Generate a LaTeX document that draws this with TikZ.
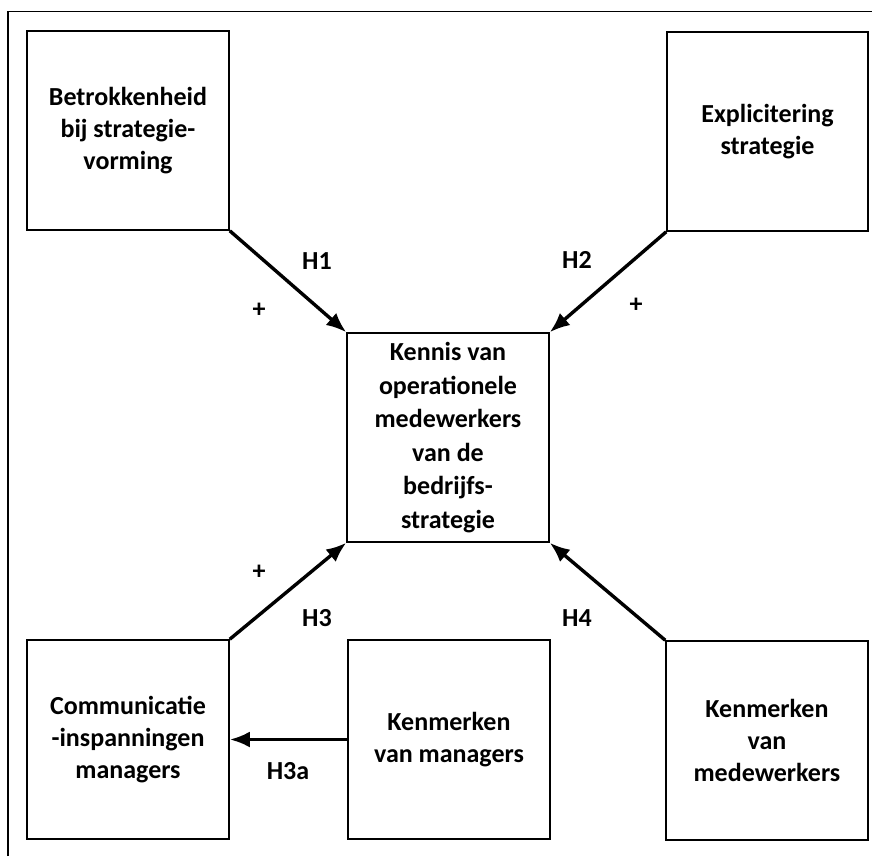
\documentclass[tikz,border=0pt]{standalone}
\usepackage{fontspec}
\setmainfont{Carlito}
\usetikzlibrary{arrows.meta}
\begin{document}
\begin{tikzpicture}[x=1pt,y=-1pt,
  box/.style={draw=black,line width=1.6pt,rectangle,minimum width=202pt,minimum height=199pt,inner sep=0pt,align=center,font=\fontsize{26}{32}\selectfont\bfseries},
  conn/.style={line width=3.4pt,-{Latex[length=20pt,width=16pt]}},
  lab/.style={font=\fontsize{26}{30}\selectfont\bfseries,inner sep=0pt}]
\useasboundingbox (0,0) rectangle (872,856);
\coordinate (f1) at (8,856);
\coordinate (f2) at (8,11.5);
\coordinate (f3) at (872,11.5);
\draw[line width=1.8pt] (f1) -- (f2) -- (f3);
\node[box] (tl) at (128,130.5) {Betrokkenheid\\bij strategie-\\vorming};
\node[box,minimum width=201pt] (tr) at (767.5,131.5) {Explicitering\\strategie};
\node[box,minimum height=209pt,font=\fontsize{26}{33.5}\selectfont\bfseries] (c) at (448,437.5) {Kennis van\\operationele\\medewerkers\\van de\\bedrijfs-\\strategie};
\node[box] (bl) at (128,739.5) {Communicatie\\-inspanningen\\managers};
\node[box] (bm) at (449,739.5) {Kenmerken\\van managers};
\node[box] (br) at (767,740.5) {Kenmerken\\van\\medewerkers};
\draw[conn] (tl.south east) -- (c.north west);
\draw[conn] (tr.south west) -- (c.north east);
\draw[conn] (bl.north east) -- (c.south west);
\draw[conn] (br.north west) -- (c.south east);
\draw[conn] (bm.west) -- (bl.east);
\node[lab] (h1) at (317,261) {H1};
\node[lab] (h2) at (577,260) {H2};
\node[lab] (h3) at (317,618) {H3};
\node[lab] (h4) at (577,618) {H4};
\node[lab] (h3a) at (288,771) {H3a};
\node[lab] (p1) at (259,310) {+};
\node[lab] (p2) at (636,305) {+};
\node[lab] (p3) at (259,572) {+};
\end{tikzpicture}
\end{document}
